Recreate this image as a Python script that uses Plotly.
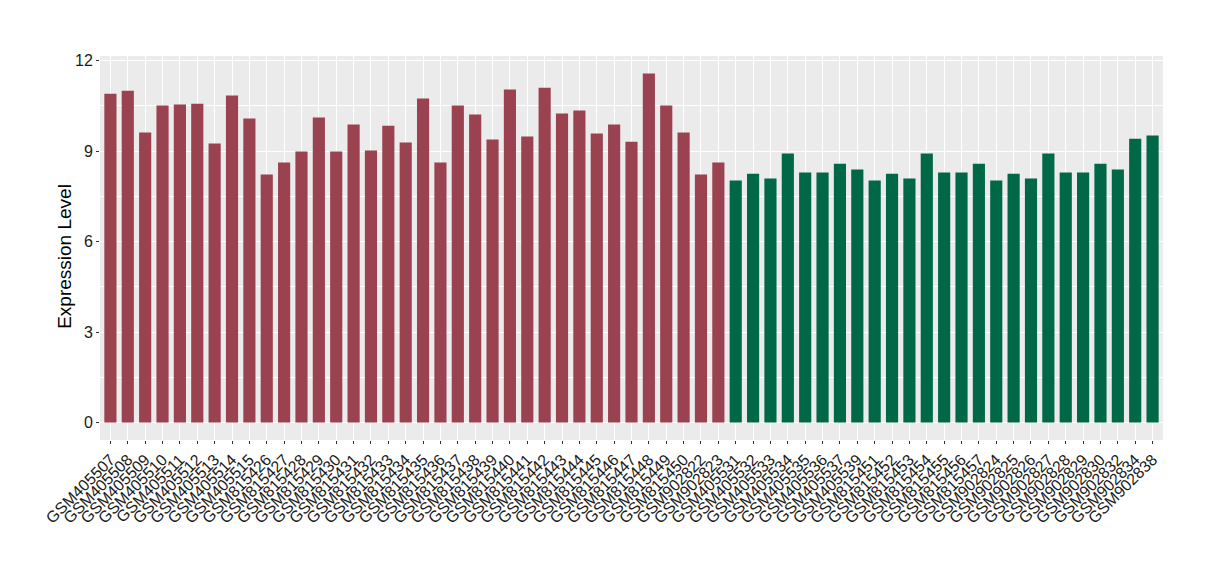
import plotly.graph_objects as go

samples_a = ["GSM405507", "GSM405508", "GSM405509", "GSM405510", "GSM405511", "GSM405512",
             "GSM405513", "GSM405514", "GSM405515", "GSM815426", "GSM815427", "GSM815428",
             "GSM815429", "GSM815430", "GSM815431", "GSM815432", "GSM815433", "GSM815434",
             "GSM815435", "GSM815436", "GSM815437", "GSM815438", "GSM815439", "GSM815440",
             "GSM815441", "GSM815442", "GSM815443", "GSM815444", "GSM815445", "GSM815446",
             "GSM815447", "GSM815448", "GSM815449", "GSM815450", "GSM902822", "GSM902823"]
values_a = [10.90, 11.00, 9.61, 10.51, 10.54, 10.57, 9.25, 10.84, 10.08, 8.22, 8.62, 8.98,
            10.11, 8.98, 9.88, 9.02, 9.84, 9.28, 10.74, 8.62, 10.51, 10.21, 9.38, 11.04,
            9.48, 11.10, 10.24, 10.34, 9.58, 9.88, 9.31, 11.57, 10.51, 9.61, 8.22, 8.62]

samples_b = ["GSM405531", "GSM405532", "GSM405533", "GSM405534", "GSM405535", "GSM405536",
             "GSM405537", "GSM405539", "GSM815451", "GSM815452", "GSM815453", "GSM815454",
             "GSM815455", "GSM815456", "GSM815457", "GSM902824", "GSM902825", "GSM902826",
             "GSM902827", "GSM902828", "GSM902829", "GSM902830", "GSM902832", "GSM902834",
             "GSM902838"]
values_b = [8.02, 8.25, 8.09, 8.92, 8.29, 8.29, 8.58, 8.39, 8.02, 8.25, 8.09, 8.92,
            8.29, 8.29, 8.58, 8.02, 8.25, 8.09, 8.92, 8.29, 8.29, 8.58, 8.39, 9.41, 9.51]

y_ticks = [0, 3, 6, 9, 12]
y_title = "Expression Level"

color_a = "#9A4250"
color_b = "#006747"

fig = go.Figure()
fig.add_trace(go.Bar(x=samples_a, y=values_a, marker=dict(color=color_a, line=dict(width=0)),
                     width=0.7, showlegend=False))
fig.add_trace(go.Bar(x=samples_b, y=values_b, marker=dict(color=color_b, line=dict(width=0)),
                     width=0.7, showlegend=False))

all_samples = samples_a + samples_b
ymax = max(values_a + values_b)

fig.update_layout(
    width=1220, height=580,
    margin=dict(l=92, r=65, t=48, b=148, pad=0),
    paper_bgcolor="white",
    plot_bgcolor="#EBEBEB",
    font=dict(family="Liberation Sans, Arial, sans-serif", color="#1a1a1a"),
    bargap=0.3,
    xaxis=dict(
        type="category",
        categoryorder="array", categoryarray=all_samples,
        tickmode="array", tickvals=all_samples, ticktext=all_samples,
        range=[-0.6, len(all_samples) - 0.4],
        tickangle=-45,
        tickfont=dict(size=16, color="#1a1a1a"),
        showgrid=True, gridcolor="white", gridwidth=1.1,
        ticks="outside", ticklen=3, tickcolor="#333333", tickwidth=1,
        showline=False, zeroline=False,
        automargin=False,
    ),
    yaxis=dict(
        range=[-0.05 * ymax, ymax * 1.05],
        tickvals=y_ticks,
        tickfont=dict(size=16, color="#1a1a1a"),
        showgrid=True, gridcolor="white", gridwidth=1.1,
        ticks="outside", ticklen=3, tickcolor="#333333", tickwidth=1,
        zeroline=False, showline=False,
        minor=dict(tickvals=[1.5, 4.5, 7.5, 10.5], showgrid=True, gridcolor="white",
                   gridwidth=0.5, ticks=""),
        automargin=False,
    ),
    annotations=[dict(
        text=y_title, textangle=-90, showarrow=False,
        xref="paper", yref="paper", x=0, y=0.477,
        xanchor="center", yanchor="middle", xshift=-35,
        font=dict(size=19, color="black"),
    )],
)

fig.write_html("out.html")
